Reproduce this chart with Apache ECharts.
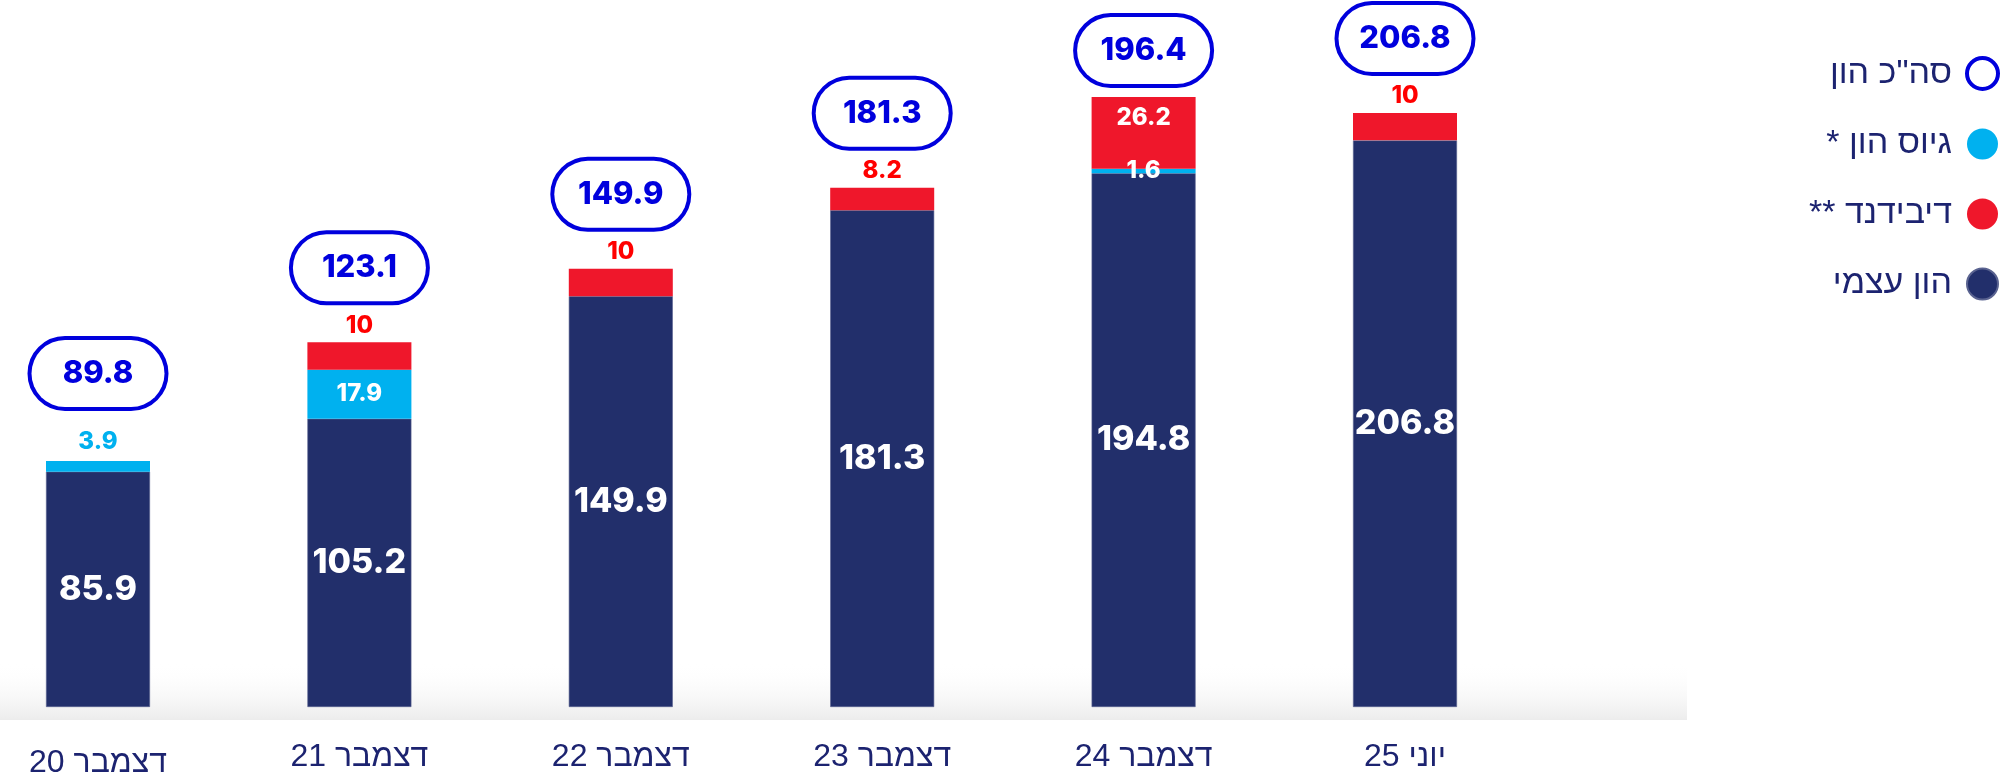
<!DOCTYPE html>
<html>
<head>
<meta charset="utf-8">
<script src="https://cdn.jsdelivr.net/npm/echarts@6/dist/echarts.min.js"></script>
<style>
    html, body { margin: 0; padding: 0; background: #fff; }
    #chart { width: 2016px; height: 778px; }
</style>
</head>
<body>
<div id="chart"></div>
<script>
var categories = ['דצמבר 20', 'דצמבר 21', 'דצמבר 22', 'דצמבר 23', 'דצמבר 24', 'יוני 25'];
var equity = [85.9, 105.2, 149.9, 181.3, 194.8, 206.8];      // הון עצמי
var raised = [3.9, 17.9, null, null, 1.6, null];             // גיוס הון *
var dividend = [null, 10, 10, 8.2, 26.2, 10];                // דיבידנד **
var totals = [89.8, 123.1, 149.9, 181.3, 196.4, 206.8];      // סה"כ הון

var NAVY = '#222f6b';
var CYAN = '#00b1ef';
var RED = '#ef172b';
var BLUE = '#0000dd';

// עטיפה לכיוון ימין-לשמאל בציור הקנבס
function rtl(s) {
    return '\u202B' + s + '\u202C';
}

var numFont = 'Inter';
var hebFont = 'Liberation Sans';

// גיוס הון: תווית פנימית או מעל העמודה
var raisedData = [];
for (var i = 0; i < raised.length; i++) {
    var v = raised[i];
    if (v == null) { raisedData.push('-'); continue; }
    if (dividend[i] != null || v >= 12) {
        raisedData.push({ value: v, label: { position: 'inside', color: '#fff' } });
    } else {
        raisedData.push({ value: v, label: { position: 'top', color: CYAN, distance: 7 } });
    }
}

var dividendData = [];
for (var i = 0; i < dividend.length; i++) {
    var v = dividend[i];
    if (v == null) { dividendData.push('-'); continue; }
    if (v >= 12) {
        dividendData.push({ value: v, label: { position: 'insideTop', color: '#fff', distance: 9 } });
    } else {
        dividendData.push({ value: v, label: { position: 'top', color: '#ff0000', distance: 5 } });
    }
}

// הבועה של סה"כ יושבת מעל ראש העמודה
var totalData = [];
for (var i = 0; i < totals.length; i++) {
    var stackTop = equity[i] + (raised[i] || 0) + (dividend[i] || 0);
    var dist = 41;
    if (dividend[i] != null && dividend[i] >= 12) dist = 13;
    else if (dividend[i] == null && raised[i] != null) dist = 54;
    totalData.push({ value: [i, stackTop], label: { distance: dist } });
}

var chart = echarts.init(document.getElementById('chart'));
var option = {
    backgroundColor: '#fff',
    animation: false,
    graphic: [{
        type: 'rect',
        z: -10,
        silent: true,
        shape: { x: 0, y: 662, width: 1687, height: 58 },
        style: {
            fill: new echarts.graphic.LinearGradient(0, 0, 0, 1, [
                { offset: 0, color: 'rgba(255,255,255,0)' },
                { offset: 1, color: '#ececec' }
            ])
        }
    }],
    legend: {
        orient: 'vertical',
        right: 11,
        top: 51,
        align: 'right',
        itemWidth: 31,
        itemHeight: 31,
        itemGap: 36,
        icon: 'circle',
        textStyle: {
            fontFamily: hebFont,
            fontSize: 34,
            lineHeight: 32,
            color: '#1c2370',
            padding: [0, 10, 0, 0]
        },
        data: [
            { name: 'סה"כ הון', itemStyle: { color: '#fff', borderColor: BLUE, borderWidth: 4 } },
            { name: 'גיוס הון *', itemStyle: { color: CYAN } },
            { name: 'דיבידנד **', itemStyle: { color: RED } },
            { name: 'הון עצמי', itemStyle: { color: NAVY } }
        ],
        formatter: function (name) { return rtl(name); }
    },
    grid: {
        left: 98,
        width: 1307,
        top: 22,
        bottom: 71,
        containLabel: false,
        outerBoundsMode: 'none'
    },
    xAxis: {
        type: 'category',
        boundaryGap: false,
        data: categories.map(function (c, i) {
            return i === 0 ? { value: c, textStyle: { padding: [6, 0, 0, 0] } } : c;
        }),
        axisLine: { show: false },
        axisTick: { show: false },
        axisLabel: {
            margin: 34,
            fontFamily: hebFont,
            fontSize: 32,
            color: '#1c2370',
            formatter: function (v) { return rtl(v); }
        }
    },
    yAxis: {
        type: 'value',
        min: 0,
        max: 250,
        show: false,
        splitLine: { show: false }
    },
    series: [
        {
            name: 'הון עצמי',
            type: 'bar',
            stack: 'cap',
            barWidth: 104,
            clip: false,
            itemStyle: { color: NAVY, borderColor: '#5a6390', borderWidth: 0.6 },
            label: {
                show: true,
                position: 'inside',
                color: '#fff',
                fontFamily: numFont,
                fontWeight: 800,
                fontSize: 34
            },
            data: equity
        },
        {
            name: 'גיוס הון *',
            type: 'bar',
            stack: 'cap',
            barWidth: 104,
            clip: false,
            itemStyle: { color: CYAN },
            label: {
                show: true,
                fontFamily: numFont,
                fontWeight: 800,
                fontSize: 24
            },
            data: raisedData
        },
        {
            name: 'דיבידנד **',
            type: 'bar',
            stack: 'cap',
            barWidth: 104,
            clip: false,
            itemStyle: { color: RED },
            label: {
                show: true,
                fontFamily: numFont,
                fontWeight: 800,
                fontSize: 24
            },
            data: dividendData
        },
        {
            name: 'סה"כ הון',
            type: 'scatter',
            symbolSize: 0,
            clip: false,
            itemStyle: { color: '#fff', borderColor: BLUE, borderWidth: 4, opacity: 1 },
            label: {
                show: true,
                position: 'top',
                color: BLUE,
                fontFamily: numFont,
                fontWeight: 800,
                fontSize: 31,
                width: 133,
                height: 67,
                lineHeight: 67,
                align: 'center',
                backgroundColor: '#fff',
                borderColor: BLUE,
                borderWidth: 4,
                borderRadius: 34,
                formatter: function (p) { return totals[p.dataIndex].toFixed(1); }
            },
            data: totalData
        }
    ]
};
chart.setOption(option);
</script>
</body>
</html>
